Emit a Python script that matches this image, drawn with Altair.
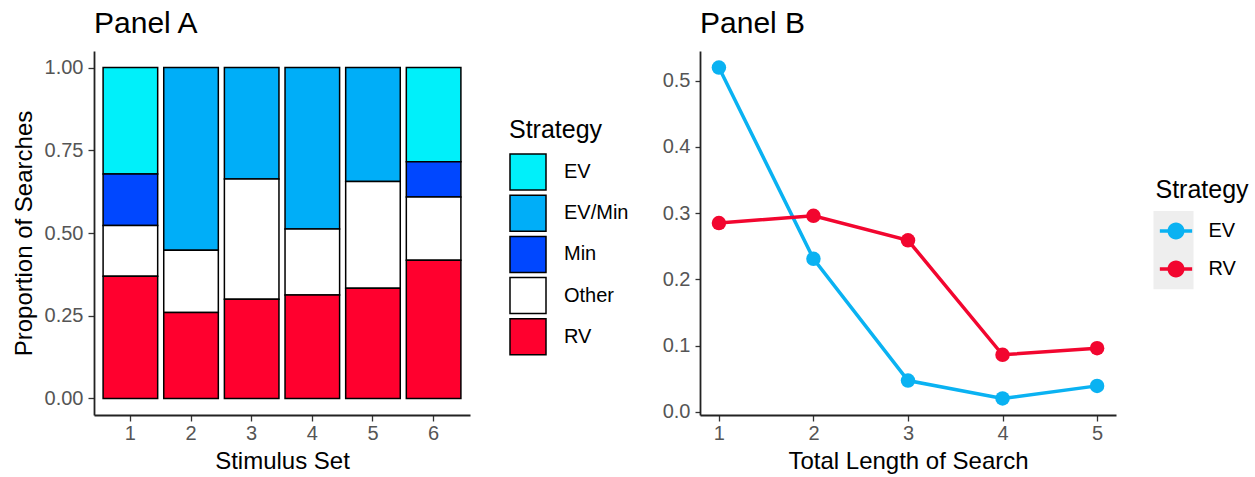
import altair as alt
import pandas as pd

# ---------------- Panel A data ----------------
stimulus_sets = [1, 2, 3, 4, 5, 6]
strategies_a = ["EV", "EV/Min", "Min", "Other", "RV"]
colors_a = ["#00F0FA", "#00AEF8", "#0047FF", "#FFFFFF", "#FF002E"]
ev_share = [0.322, 0.0, 0.0, 0.0, 0.0, 0.285]
evmin_share = [0.0, 0.552, 0.337, 0.488, 0.344, 0.0]
min_share = [0.155, 0.0, 0.0, 0.0, 0.0, 0.106]
other_share = [0.154, 0.188, 0.363, 0.199, 0.323, 0.191]
rv_share = [0.369, 0.260, 0.300, 0.313, 0.333, 0.418]

# ---------------- Panel B data ----------------
search_lengths = [1, 2, 3, 4, 5]
strategies_b = ["EV", "RV"]
colors_b = ["#0AB2F2", "#F2062F"]
ev_by_length = [0.520, 0.231, 0.047, 0.020, 0.039]
rv_by_length = [0.285, 0.296, 0.259, 0.086, 0.096]

FONT = "Liberation Sans"

shares = {"EV": ev_share, "EV/Min": evmin_share, "Min": min_share,
          "Other": other_share, "RV": rv_share}
stack_rank = {"RV": 0, "Other": 1, "Min": 2, "EV/Min": 3, "EV": 4}
rows_a = []
for strat, vals in shares.items():
    for s, v in zip(stimulus_sets, vals):
        if v > 0:
            rows_a.append({"Set": s, "Strategy": strat, "Proportion": v,
                           "rank": stack_rank[strat]})
df_a = pd.DataFrame(rows_a)

rows_b = []
for strat, vals in zip(strategies_b, [ev_by_length, rv_by_length]):
    for l, v in zip(search_lengths, vals):
        rows_b.append({"Length": l, "Strategy": strat, "Proportion": v})
df_b = pd.DataFrame(rows_b)

x_axis_style = dict(tickSize=6, labelPadding=2, titlePadding=6)
y_axis_style = dict(tickSize=6, labelPadding=5, titlePadding=8)

panel_a = alt.Chart(df_a).mark_bar(stroke="black", strokeWidth=1.5).encode(
    x=alt.X("Set:O",
            scale=alt.Scale(paddingInner=0.1, paddingOuter=0.15),
            axis=alt.Axis(title="Stimulus Set", labelAngle=0, **x_axis_style)),
    y=alt.Y("Proportion:Q", stack="zero",
            scale=alt.Scale(domain=[-0.05, 1.05], nice=False, zero=False),
            axis=alt.Axis(title="Proportion of Searches",
                          values=[0, 0.25, 0.5, 0.75, 1.0], format=".2f",
                          **y_axis_style)),
    color=alt.Color("Strategy:N",
                    scale=alt.Scale(domain=strategies_a, range=colors_a),
                    legend=alt.Legend(orient="none", legendX=415, legendY=67,
                                      title="Strategy", titleFontSize=25,
                                      titleFont=FONT, titleFontWeight="normal",
                                      titleColor="black", titlePadding=10,
                                      labelFontSize=20, labelFont=FONT,
                                      labelColor="black", labelOffset=17,
                                      symbolType="square", symbolSize=1296,
                                      symbolStrokeColor="black",
                                      symbolStrokeWidth=1.5,
                                      symbolOpacity=1, rowPadding=-0.8,
                                      padding=0)),
    order=alt.Order("rank:Q"),
).properties(
    width=376, height=364,
    title=alt.TitleParams("Panel A", anchor="start", frame="group",
                          fontSize=30, font=FONT, fontWeight="normal",
                          color="black", offset=12),
)

legend_b = alt.Legend(orient="none", legendX=455.5, legendY=127,
                      title="Strategy", titleFontSize=25, titleFont=FONT,
                      titleFontWeight="normal", titleColor="black",
                      titlePadding=18,
                      labelFontSize=20, labelFont=FONT, labelColor="black",
                      labelOffset=22.5, symbolOffset=10.5,
                      symbolType="M-1.9,-0.2 L1.9,-0.2 L1.9,0.2 L-1.9,0.2 Z M-1,0 A1,1 0 1,1 1,0 A1,1 0 1,1 -1,0 Z",
                      symbolSize=289, symbolStrokeWidth=0, symbolOpacity=1,
                      rowPadding=18, padding=0)

base_b = alt.Chart(df_b).encode(
    x=alt.X("Length:Q",
            scale=alt.Scale(domain=[0.8, 5.2], nice=False, zero=False),
            axis=alt.Axis(title="Total Length of Search",
                          values=search_lengths, format="d", **x_axis_style)),
    y=alt.Y("Proportion:Q",
            scale=alt.Scale(domain=[-0.005, 0.545], nice=False, zero=False),
            axis=alt.Axis(title=None, values=[0, 0.1, 0.2, 0.3, 0.4, 0.5],
                          format=".1f", tickSize=5, labelPadding=5)),
    color=alt.Color("Strategy:N",
                    scale=alt.Scale(domain=strategies_b, range=colors_b),
                    legend=legend_b),
)

legend_box = alt.Chart(pd.DataFrame({"k": [0]})).mark_rect(
    color="#EEEEEE").encode(
    x=alt.value(453.5), x2=alt.value(493.5), y=alt.value(160), y2=alt.value(238.3))

lines_b = base_b.mark_line(strokeWidth=3.5)
points_b = base_b.mark_circle(size=210, opacity=1)

panel_b = alt.layer(legend_box, lines_b, points_b).properties(
    width=416, height=364,
    title=alt.TitleParams("Panel B", anchor="start", frame="group",
                          fontSize=30, font=FONT, fontWeight="normal",
                          color="black", offset=12),
)

chart = alt.hconcat(panel_a, panel_b, spacing=33).resolve_scale(
    color="independent"
).properties(
    padding={"left": 12, "top": 9, "right": 2, "bottom": 2},
    background="white",
).configure_view(stroke=None).configure_axis(
    grid=False, domainColor="#222222", domainWidth=1.8,
    tickColor="#333333", tickWidth=1.3,
    labelFont=FONT, labelFontSize=20, labelColor="#555555",
    titleFont=FONT, titleFontSize=24, titleFontWeight="normal",
    titleColor="black",
)

chart.save("out.html", embed_options={"renderer": "svg", "actions": False})
